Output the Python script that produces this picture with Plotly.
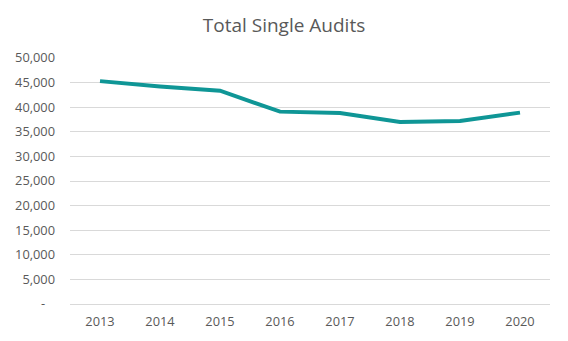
import plotly.graph_objects as go

years = ["2013", "2014", "2015", "2016", "2017", "2018", "2019", "2020"]
total_audits = [45300, 44200, 43350, 39100, 38800, 37000, 37200, 38900]

y_ticks = [0, 5000, 10000, 15000, 20000, 25000, 30000, 35000, 40000, 45000, 50000]
y_tick_text = ["-\u00a0\u00a0\u00a0"] + [f"{v:,}" for v in y_ticks[1:]]

text_gray = "#595959"
grid_gray = "#d9d9d9"
teal = "#0f9696"
font_family = "Open Sans, Liberation Sans, sans-serif"

fig = go.Figure(
    go.Scatter(
        x=years,
        y=total_audits,
        mode="lines",
        line=dict(color=teal, width=4),
        hoverinfo="x+y",
    )
)

fig.update_layout(
    width=568,
    height=341,
    paper_bgcolor="white",
    plot_bgcolor="white",
    showlegend=False,
    margin=dict(l=70, r=18, t=58, b=37),
    title=dict(
        text="Total Single Audits",
        x=0.5,
        xanchor="center",
        y=1 - 25 / 341,
        yanchor="middle",
        font=dict(family=font_family, size=19, color=text_gray),
    ),
    font=dict(family=font_family, size=12.8, color=text_gray),
)

fig.update_xaxes(
    type="category",
    range=[-0.5, len(years) - 0.5],
    showgrid=False,
    showline=False,
    zeroline=False,
    ticks="",
    ticklabelstandoff=8,
)

fig.update_yaxes(
    range=[0, 50000],
    tickvals=y_ticks,
    ticktext=y_tick_text,
    showgrid=True,
    gridcolor=grid_gray,
    gridwidth=1.3,
    zeroline=True,
    zerolinecolor=grid_gray,
    zerolinewidth=1.3,
    showline=False,
    ticks="",
    ticklabelstandoff=14,
)

fig.write_html("out.html")
